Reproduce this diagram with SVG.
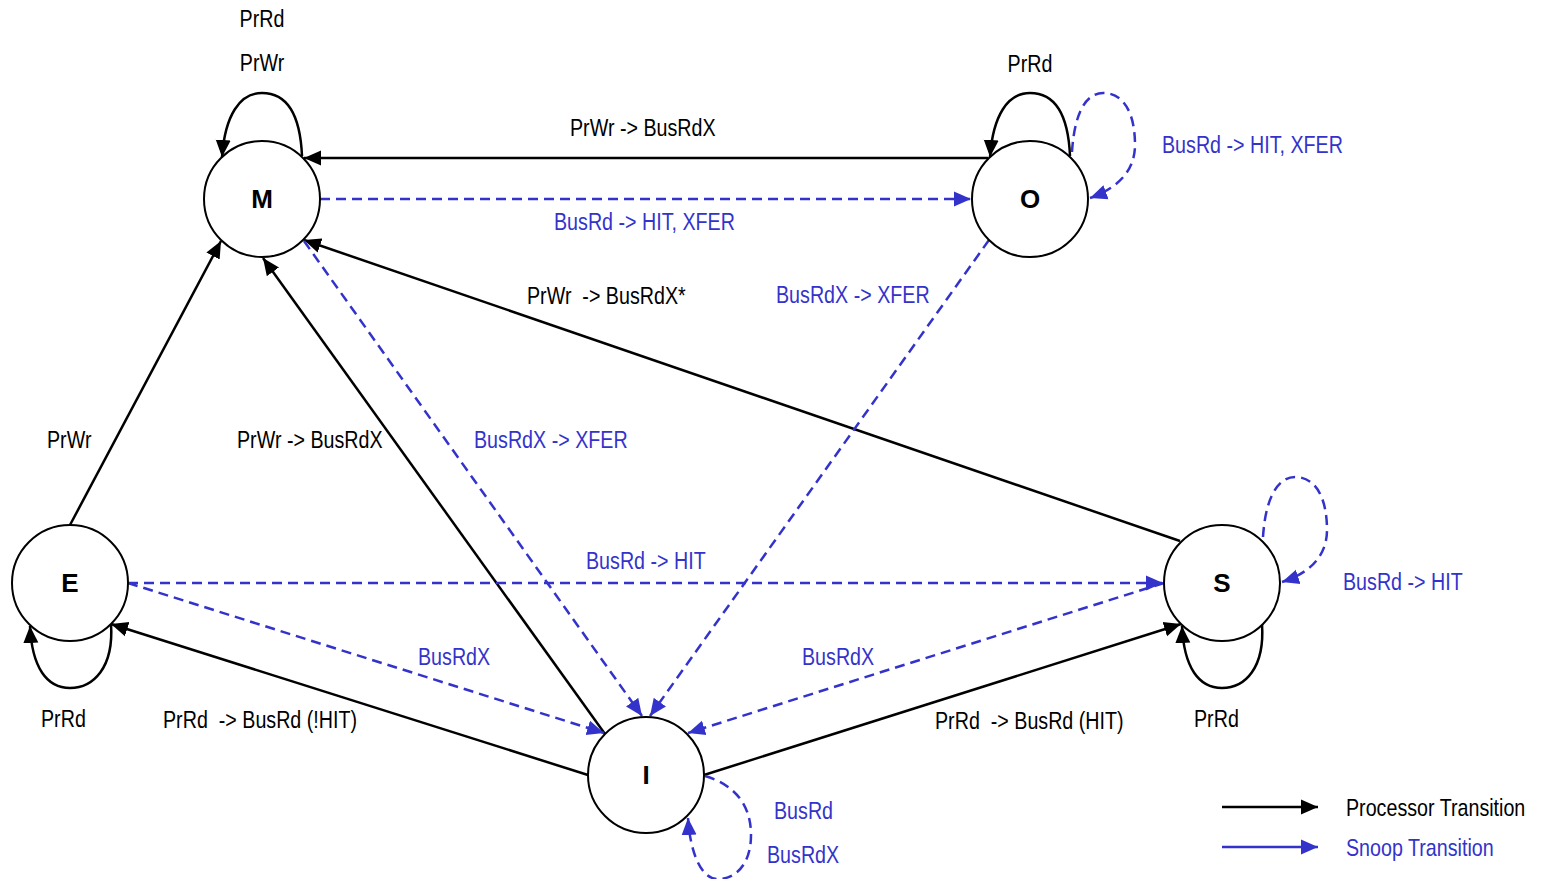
<svg xmlns="http://www.w3.org/2000/svg" width="1545" height="879" viewBox="0 0 1545 879">
  <style>
    .node { fill: #ffffff; stroke: #000000; stroke-width: 2; }
    .nlab { font-family: "Liberation Sans", Arial, sans-serif; font-weight: bold; font-size: 26px; fill: #000000; text-anchor: middle; }
    .lab { font-family: "Liberation Sans", Arial, sans-serif; font-size: 24px; white-space: pre; }
    .mid { text-anchor: middle; }
    .proc { fill: #000000; }
    .snoop { fill: #3333cc; }
    .pe { fill: none; stroke: #000000; stroke-width: 2.5; marker-end: url(#ah-black); }
    .se { fill: none; stroke: #3333cc; stroke-width: 2.5; stroke-dasharray: 10 6; marker-end: url(#ah-blue); }
    .sl { fill: none; stroke: #3333cc; stroke-width: 2.5; marker-end: url(#ah-blue); }
  </style>
  <defs>
    <marker id="ah-black" markerUnits="userSpaceOnUse" markerWidth="20" markerHeight="16" refX="17" refY="8" orient="auto">
      <path d="M0,0.5 L17,8 L0,15.5 Z" fill="#000000"/>
    </marker>
    <marker id="ah-blue" markerUnits="userSpaceOnUse" markerWidth="20" markerHeight="16" refX="17" refY="8" orient="auto">
      <path d="M0,0.5 L17,8 L0,15.5 Z" fill="#3333cc"/>
    </marker>
  </defs>

  <rect width="1545" height="879" fill="#ffffff"/>

  <!-- transitions -->
  <g id="connectors">
    <!-- processor transitions -->
    <path class="pe" d="M988,158 L304,158"/>
    <path class="pe" d="M1180,541 L304,240"/>
    <path class="pe" d="M605,734 L263,258"/>
    <path class="pe" d="M70,525 L221,241"/>
    <path class="pe" d="M588,775 L111,624"/>
    <path class="pe" d="M704,775 L1181,624"/>
    <!-- processor self-loops -->
    <path class="pe" d="M302,156 C300,110 285,93 262,93 C240,93 225,115 222,157"/>
    <path class="pe" d="M1070,156 C1068,110 1053,93 1030,93 C1008,93 993,115 990,157"/>
    <path class="pe" d="M1262,624 C1265,668 1245,688 1222,688 C1199,688 1184,668 1182,626"/>
    <path class="pe" d="M111,624 C114,668 93,688 70,688 C47,688 32,668 30,626"/>

    <!-- snoop transitions -->
    <path class="se" d="M320,199 L971,199"/>
    <path class="se" d="M989,240 L650,716"/>
    <path class="se" d="M304,241 L642,716"/>
    <path class="se" d="M128,583 L1163,583"/>
    <path class="se" d="M128,583 L604,733"/>
    <path class="se" d="M1164,583 L688,733"/>
    <!-- snoop self-loops -->
    <path class="se" d="M1072,152 C1075,105 1090,93 1103,93 C1125,93 1135,115 1135,145 C1135,175 1112,190 1090,198"/>
    <path class="se" d="M1263,537 C1266,490 1282,477 1295,477 C1317,477 1327,500 1327,530 C1327,560 1304,575 1282,582"/>
    <path class="se" d="M705,776 C735,785 751,805 751,835 C751,865 735,879 718,879 C700,879 690,850 688,818"/>
  </g>

  <!-- states -->
  <g id="node-M">
    <circle class="node" cx="262" cy="199" r="58"/>
    <text class="nlab" x="262" y="208">M</text>
  </g>
  <g id="node-O">
    <circle class="node" cx="1030" cy="199" r="58"/>
    <text class="nlab" x="1030" y="208">O</text>
  </g>
  <g id="node-E">
    <circle class="node" cx="70" cy="583" r="58"/>
    <text class="nlab" x="70" y="592">E</text>
  </g>
  <g id="node-S">
    <circle class="node" cx="1222" cy="583" r="58"/>
    <text class="nlab" x="1222" y="592">S</text>
  </g>
  <g id="node-I">
    <circle class="node" cx="646" cy="775" r="58"/>
    <text class="nlab" x="646" y="784">I</text>
  </g>

  <!-- transition labels (condensed sans, drawn at 82% width) -->
  <g id="labels">
    <text class="lab proc mid" transform="translate(262,27) scale(0.82,1)">PrRd</text>
    <text class="lab proc mid" transform="translate(262,71) scale(0.82,1)">PrWr</text>
    <text class="lab proc" transform="translate(570,136) scale(0.82,1)">PrWr -&gt; BusRdX</text>
    <text class="lab proc mid" transform="translate(1030,72) scale(0.82,1)">PrRd</text>
    <text class="lab snoop" transform="translate(1162,153) scale(0.82,1)">BusRd -&gt; HIT, XFER</text>
    <text class="lab snoop" transform="translate(554,230) scale(0.82,1)">BusRd -&gt; HIT, XFER</text>
    <text class="lab proc" transform="translate(527,304) scale(0.82,1)">PrWr  -&gt; BusRdX*</text>
    <text class="lab snoop" transform="translate(776,303) scale(0.82,1)">BusRdX -&gt; XFER</text>
    <text class="lab proc" transform="translate(47,448) scale(0.82,1)">PrWr</text>
    <text class="lab proc" transform="translate(237,448) scale(0.82,1)">PrWr -&gt; BusRdX</text>
    <text class="lab snoop" transform="translate(474,448) scale(0.82,1)">BusRdX -&gt; XFER</text>
    <text class="lab snoop" transform="translate(586,569) scale(0.82,1)">BusRd -&gt; HIT</text>
    <text class="lab snoop" transform="translate(1343,590) scale(0.82,1)">BusRd -&gt; HIT</text>
    <text class="lab snoop" transform="translate(418,665) scale(0.82,1)">BusRdX</text>
    <text class="lab snoop" transform="translate(802,665) scale(0.82,1)">BusRdX</text>
    <text class="lab proc" transform="translate(41,727) scale(0.82,1)">PrRd</text>
    <text class="lab proc" transform="translate(163,728) scale(0.82,1)">PrRd  -&gt; BusRd (!HIT)</text>
    <text class="lab proc" transform="translate(935,729) scale(0.82,1)">PrRd  -&gt; BusRd (HIT)</text>
    <text class="lab proc" transform="translate(1194,727) scale(0.82,1)">PrRd</text>
    <text class="lab snoop" transform="translate(774,819) scale(0.82,1)">BusRd</text>
    <text class="lab snoop" transform="translate(767,863) scale(0.82,1)">BusRdX</text>
  </g>

  <!-- legend -->
  <g id="legend">
    <path class="pe" d="M1222,807 L1318,807"/>
    <text class="lab proc" transform="translate(1346,816) scale(0.82,1)">Processor Transition</text>
    <path class="sl" d="M1222,847 L1318,847"/>
    <text class="lab snoop" transform="translate(1346,856) scale(0.82,1)">Snoop Transition</text>
  </g>
</svg>
